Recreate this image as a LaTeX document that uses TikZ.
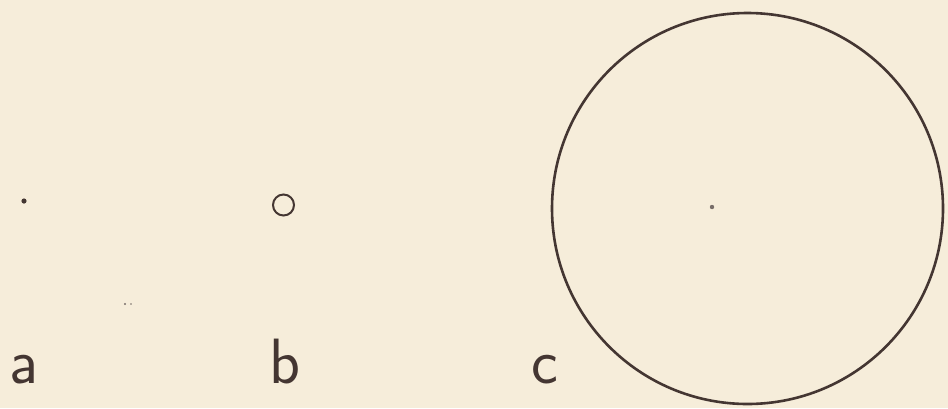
\documentclass[tikz,border=0pt]{standalone}
\usepackage{fontspec}
\definecolor{paper}{RGB}{246,237,218}
\definecolor{ink}{RGB}{68,54,50}
\definecolor{speck}{RGB}{120,110,105}
\begin{document}
\begin{tikzpicture}[x=1pt,y=-1pt,
  lbl/.style={anchor=base,inner sep=0pt,text=ink,font=\sffamily\fontsize{64}{64}\selectfont}]
\fill[paper] (0,0) rectangle (948,408);
\useasboundingbox (0,0) rectangle (948,408);
% a: point
\fill[ink] (24,201) circle[radius=2.6];
% b: small circle
\draw[ink,line width=2pt] (283.5,205) circle[radius=10.5];
% c: large circle
\draw[ink,line width=2.6pt] (747.5,208.5) circle[radius=195.5];
\fill[speck] (712,207) circle[radius=2.2];
% specks
\fill[speck] (125,304) circle[radius=1.1];
\fill[speck] (131,304) circle[radius=0.8];
% labels
\node[lbl] (la) at (24,383) {a};
\node[lbl] (lb) at (285,383) {b};
\node[lbl] (lc) at (545,383) {c};
\end{tikzpicture}
\end{document}
